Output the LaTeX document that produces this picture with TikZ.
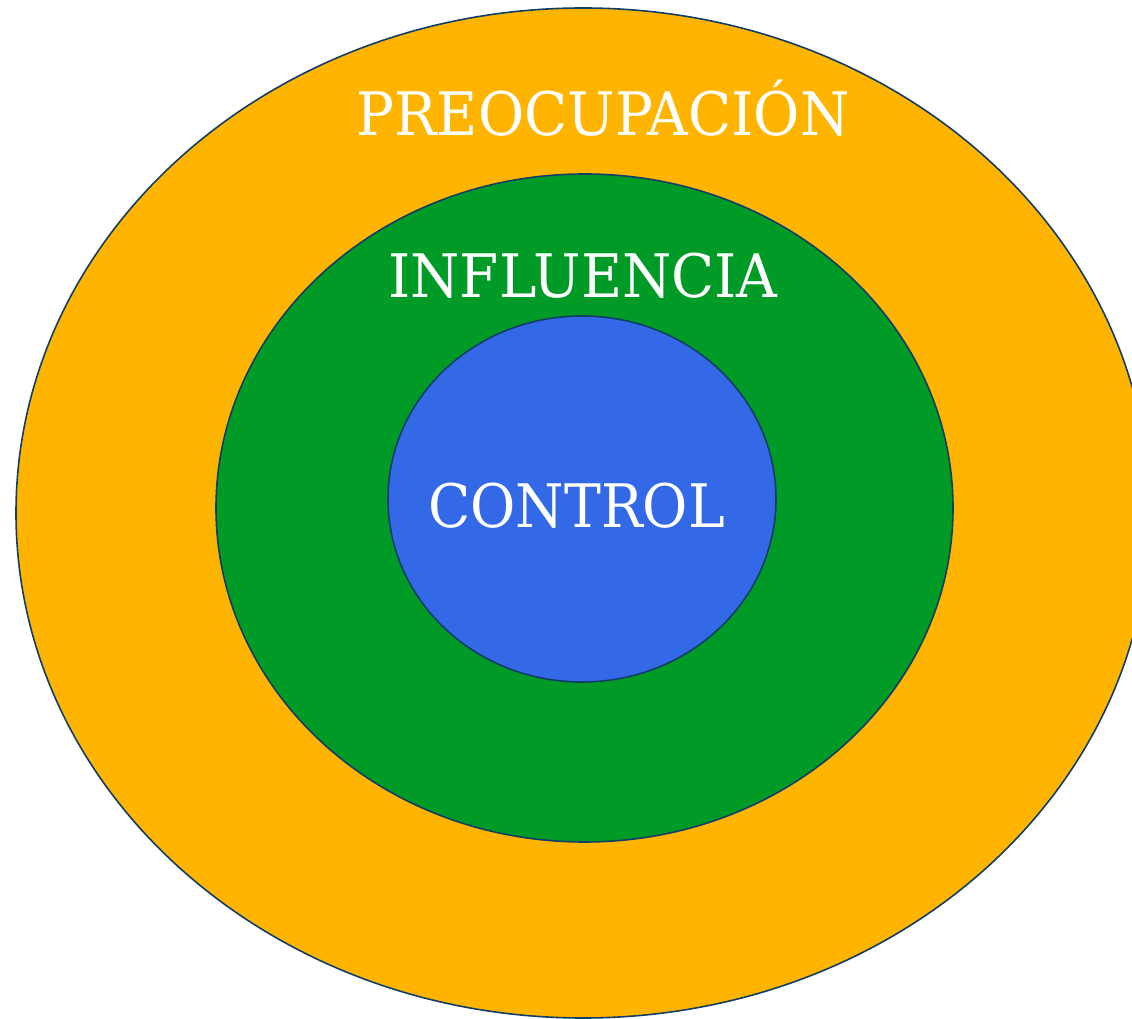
\documentclass[tikz,border=0pt]{standalone}
\usepackage{fontspec}
\setmainfont{DejaVu Serif}
\usetikzlibrary{shapes.geometric}
\definecolor{outerc}{HTML}{FFB500}
\definecolor{midc}{HTML}{009A27}
\definecolor{innerc}{HTML}{3369E6}
\definecolor{edgec}{HTML}{123E66}
\tikzset{
  ring/.style={ellipse, draw=edgec, line width=1.6pt, inner sep=0pt},
  lbl/.style={text=white, anchor=base, inner sep=0pt, xscale=0.94, font=\fontsize{60}{60}\selectfont},
}
\begin{document}
\begin{tikzpicture}[x=1pt,y=1pt]
\useasboundingbox (0,0) rectangle (1132,1018);
\begin{scope}
\clip (0,0) rectangle (1132,1018);
\node[ring, fill=outerc, minimum width=1134pt, minimum height=1010pt] (outer) at (583,505) {};
\node[ring, fill=midc, minimum width=737pt, minimum height=668pt] (middle) at (584.5,510) {};
\node[ring, fill=innerc, minimum width=388pt, minimum height=366pt] (inner) at (582,519) {};
\end{scope}
\node[lbl] (t1) at (603,882) {PREOCUPACIÓN};
\node[lbl] (t2) at (583,720) {INFLUENCIA};
\node[lbl, xscale=0.98] (t3) at (576.5,490) {CONTROL};
\end{tikzpicture}
\end{document}
